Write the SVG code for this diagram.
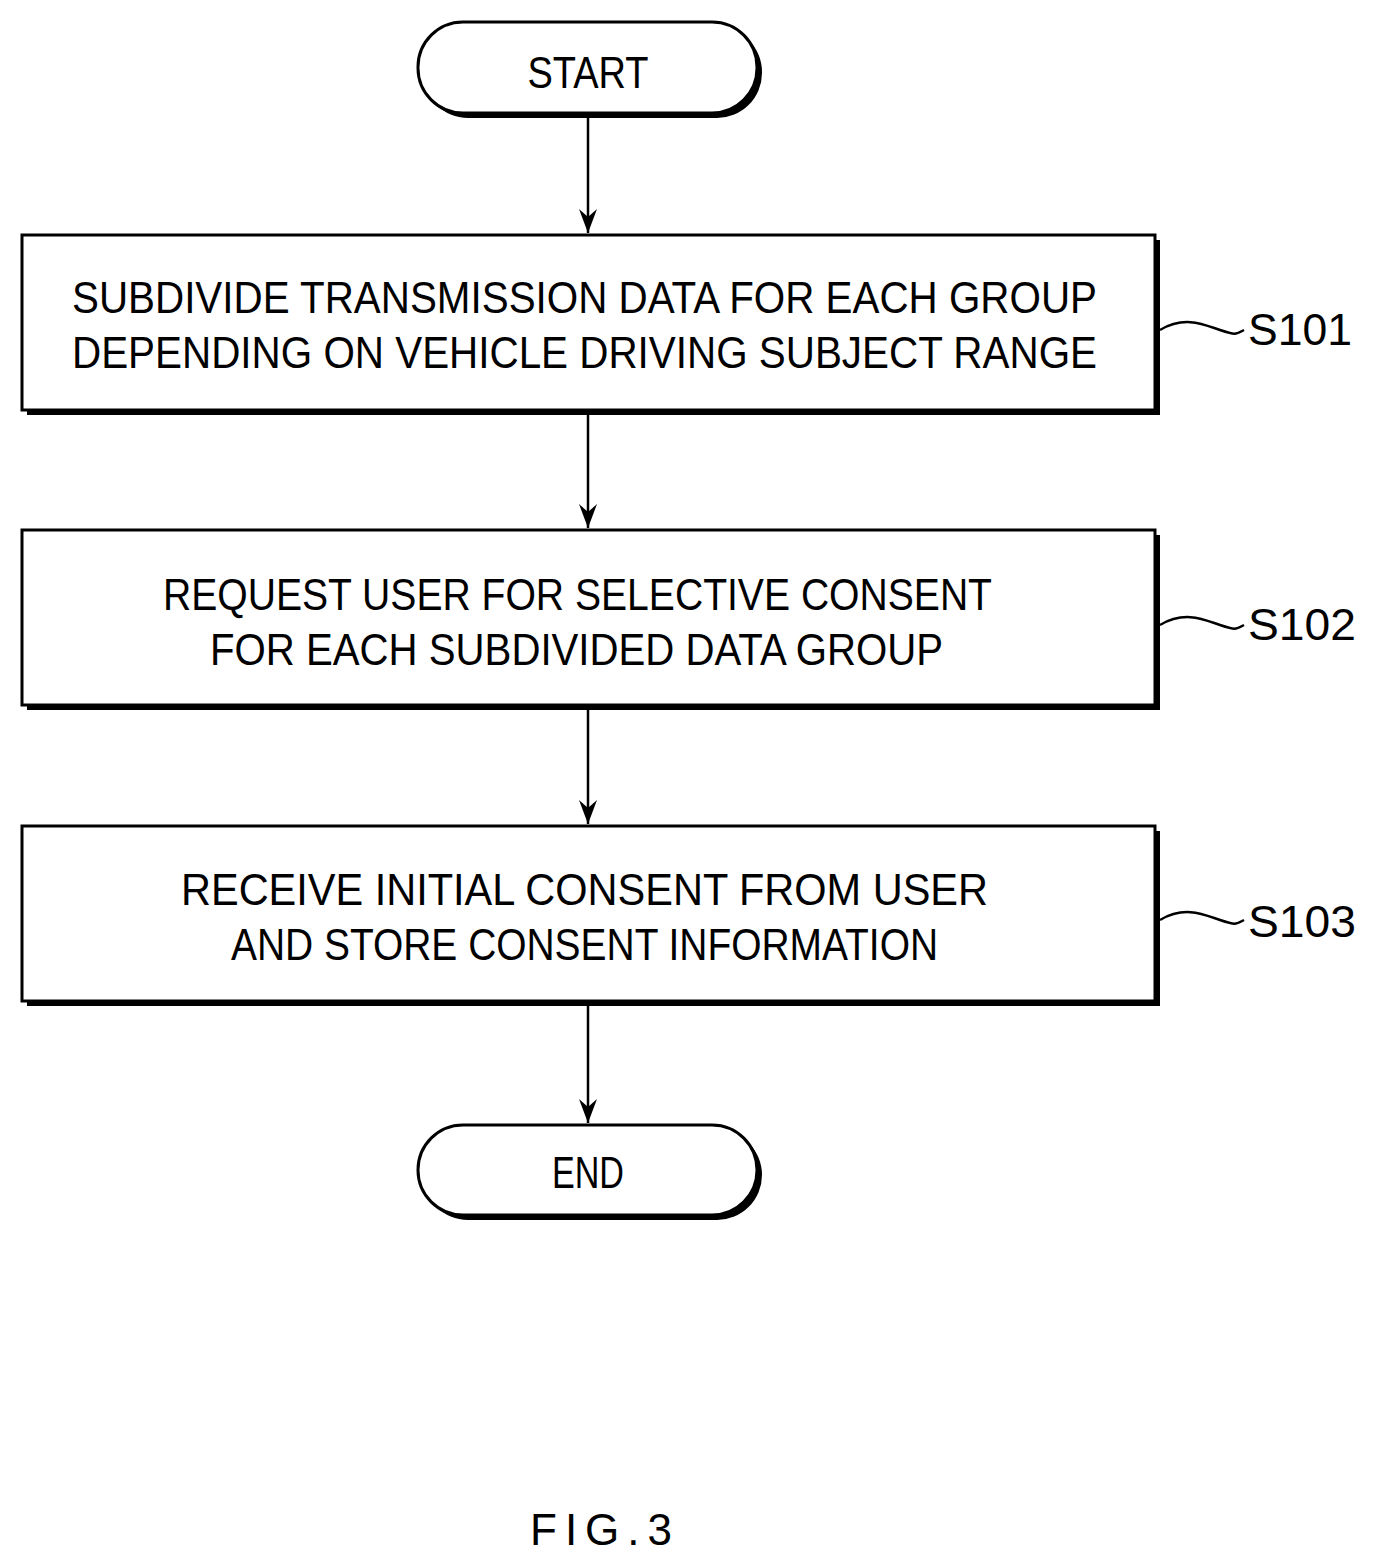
<svg xmlns="http://www.w3.org/2000/svg" width="1375" height="1568" viewBox="0 0 1375 1568">
<style>
.t{font-family:"Liberation Sans",Arial,sans-serif;font-size:44px;fill:#000}
.b{fill:#fff;stroke:#000;stroke-width:3}
.s{fill:#000;stroke:none}
.c{stroke:#000;stroke-width:2.5;fill:none}
</style>
<defs><marker id="a" markerWidth="24" markerHeight="18" refX="24" refY="9" orient="auto" markerUnits="userSpaceOnUse" viewBox="0 0 24 18"><path d="M0 0L24 9L0 18L8 9Z" fill="#000"/></marker></defs>
<rect width="1375" height="1568" fill="#fff"/>
<g id="start"><rect x="423" y="27" width="339" height="91" rx="45" class="s"/><rect x="418" y="22" width="339" height="91" rx="45" class="b"/><text class="t" x="588" y="88" text-anchor="middle" textLength="121" lengthAdjust="spacingAndGlyphs">START</text></g>
<g id="s101"><rect x="27" y="240" width="1133" height="175" class="s"/><rect x="22" y="235" width="1133" height="175" class="b"/>
<text class="t" x="72" y="313" textLength="1025" lengthAdjust="spacingAndGlyphs">SUBDIVIDE TRANSMISSION DATA FOR EACH GROUP</text>
<text class="t" x="72" y="368" textLength="1025" lengthAdjust="spacingAndGlyphs">DEPENDING ON VEHICLE DRIVING SUBJECT RANGE</text>
<text class="t" x="1248" y="345" textLength="104" lengthAdjust="spacingAndGlyphs">S101</text></g>
<g id="s102"><rect x="27" y="535" width="1133" height="175" class="s"/><rect x="22" y="530" width="1133" height="175" class="b"/>
<text class="t" x="163" y="610" textLength="829" lengthAdjust="spacingAndGlyphs">REQUEST USER FOR SELECTIVE CONSENT</text>
<text class="t" x="210" y="665" textLength="733" lengthAdjust="spacingAndGlyphs">FOR EACH SUBDIVIDED DATA GROUP</text>
<text class="t" x="1248" y="640" textLength="108" lengthAdjust="spacingAndGlyphs">S102</text></g>
<g id="s103"><rect x="27" y="831" width="1133" height="175" class="s"/><rect x="22" y="826" width="1133" height="175" class="b"/>
<text class="t" x="181" y="905" textLength="807" lengthAdjust="spacingAndGlyphs">RECEIVE INITIAL CONSENT FROM USER</text>
<text class="t" x="231" y="960" textLength="707" lengthAdjust="spacingAndGlyphs">AND STORE CONSENT INFORMATION</text>
<text class="t" x="1248" y="937" textLength="108" lengthAdjust="spacingAndGlyphs">S103</text></g>
<g id="end"><rect x="423" y="1130" width="339" height="90" rx="45" class="s"/><rect x="418" y="1125" width="339" height="90" rx="45" class="b"/><text class="t" x="588" y="1188" text-anchor="middle" textLength="72" lengthAdjust="spacingAndGlyphs">END</text></g>
<g id="connectors">
<line x1="588" y1="113" x2="588" y2="233" class="c" marker-end="url(#a)"/>
<line x1="588" y1="410" x2="588" y2="528" class="c" marker-end="url(#a)"/>
<line x1="588" y1="705" x2="588" y2="824" class="c" marker-end="url(#a)"/>
<line x1="588" y1="1001" x2="588" y2="1123" class="c" marker-end="url(#a)"/>
<path class="c" d="M1160 330C1185 315 1205 325 1220 330S1235 335 1244 330"/>
<path class="c" d="M1160 625C1185 610 1205 620 1220 625S1235 630 1244 625"/>
<path class="c" d="M1160 920C1185 905 1205 915 1220 920S1235 925 1244 920"/>
</g>
<text class="t" x="530" y="1545" font-size="48" letter-spacing="8">FIG.3</text>
</svg>
